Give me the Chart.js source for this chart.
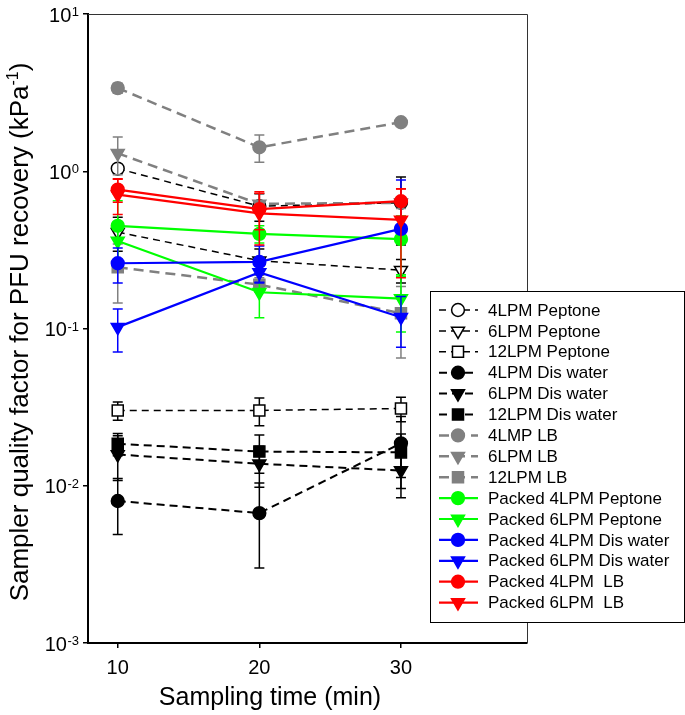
<!DOCTYPE html>
<html lang="en">
<head>
  <meta charset="UTF-8">
  <title>Sampler quality factor for PFU recovery</title>
  <script src="https://cdn.jsdelivr.net/npm/chart.js"></script>
  <style>
    body { margin: 0; background: #fff; }
  </style>
</head>
<body>
<canvas id="qfChart" width="685" height="715"></canvas>
<script>
  // x values (sampling time, min) and axis ticks
  const times = [10, 20, 30];
  const xTicks = [10, 20, 30];
  const yTicks = [0.001, 0.01, 0.1, 1, 10];
  const yTickExp = ['-3', '-2', '-1', '0', '1'];

  const seriesNames = [
    '4LPM Peptone', '6LPM Peptone', '12LPM Peptone',
    '4LPM Dis water', '6LPM Dis water', '12LPM Dis water',
    '4LMP LB', '6LPM LB', '12LPM LB',
    'Packed 4LPM Peptone', 'Packed 6LPM Peptone',
    'Packed 4LPM Dis water', 'Packed 6LPM Dis water',
    'Packed 4LPM  LB', 'Packed 6LPM  LB'
  ];

  // mean values at 10, 20, 30 min
  const pep4 = [1.04, 0.60, 0.63];
  const pep6 = [0.41, 0.27, 0.235];
  const pep12 = [0.0301, 0.0301, 0.031];
  const dis4 = [0.0080, 0.0067, 0.0186];
  const dis6 = [0.0158, 0.0138, 0.0125];
  const dis12 = [0.0185, 0.0165, 0.0163];
  const lb4 = [3.38, 1.42, 2.05];
  const lb6 = [1.30, 0.62, 0.63];
  const lb12 = [0.245, 0.19, 0.125];
  const packPep4 = [0.45, 0.40, 0.37];
  const packPep6 = [0.36, 0.17, 0.155];
  const packDis4 = [0.26, 0.265, 0.43];
  const packDis6 = [0.102, 0.227, 0.118];
  const packLb4 = [0.765, 0.575, 0.645];
  const packLb6 = [0.71, 0.54, 0.49];

  // error bars (+/- sd)
  const pep4Err = [0.05, 0.12, 0.29];
  const pep6Err = [0.10, 0.05, 0.04];
  const pep12Err = [0.004, 0.006, 0.0055];
  const dis4Err = [0.0031, 0.0037, 0.009];
  const dis6Err = [0.005, 0.004, 0.0041];
  const dis12Err = [0.003, 0.0045, 0.005];
  const lb4Err = [0.25, 0.28, 0.05];
  const lb6Err = [0.35, 0.03, 0.05];
  const lb12Err = [0.10, 0.02, 0.06];
  const packPep4Err = [0.20, 0.05, 0.15];
  const packPep6Err = [0.10, 0.053, 0.06];
  const packDis4Err = [0.065, 0.07, 0.45];
  const packDis6Err = [0.031, 0.03, 0.042];
  const packLb4Err = [0.13, 0.15, 0.13];
  const packLb6Err = [0.18, 0.20, 0.28];

  const allValues = [pep4, pep6, pep12, dis4, dis6, dis12, lb4, lb6, lb12,
    packPep4, packPep6, packDis4, packDis6, packLb4, packLb6];
  const allErrors = [pep4Err, pep6Err, pep12Err, dis4Err, dis6Err, dis12Err, lb4Err, lb6Err, lb12Err,
    packPep4Err, packPep6Err, packDis4Err, packDis6Err, packLb4Err, packLb6Err];

  const FONT = "'Liberation Sans', Arial, sans-serif";
  const GRAY = '#808080';

  // line kinds
  const lineKinds = {
    pep: { width: 1.5, dash: [7, 5] },
    dis: { width: 2, dash: [8, 5] },
    lb: { width: 2.5, dash: [10, 6] },
    packed: { width: 2.2, dash: [] }
  };

  // per series look: kind, color, marker, open
  const looks = [
    ['pep', '#000', 'circle', true], ['pep', '#000', 'triangle', true], ['pep', '#000', 'rect', true],
    ['dis', '#000', 'circle', false], ['dis', '#000', 'triangle', false], ['dis', '#000', 'rect', false],
    ['lb', GRAY, 'circle', false], ['lb', GRAY, 'triangle', false], ['lb', GRAY, 'rect', false],
    ['packed', '#00ff00', 'circle', false], ['packed', '#00ff00', 'triangle', false],
    ['packed', '#0000ff', 'circle', false], ['packed', '#0000ff', 'triangle', false],
    ['packed', '#ff0000', 'circle', false], ['packed', '#ff0000', 'triangle', false]
  ];

  function markerRadius(style) {
    if (style === 'triangle') return 7.5;
    if (style === 'rect') return 7.8;
    return 6.4;
  }

  const datasets = seriesNames.map((name, i) => {
    const [kind, color, marker, open] = looks[i];
    const lk = lineKinds[kind];
    return {
      label: name,
      data: times.map((t, j) => ({ x: t, y: allValues[i][j] })),
      errors: allErrors[i],
      borderColor: color,
      borderWidth: lk.width,
      borderDash: lk.dash,
      pointStyle: marker,
      pointRadius: markerRadius(marker),
      pointRotation: marker === 'triangle' ? 180 : 0,
      pointBackgroundColor: open ? '#fff' : color,
      pointBorderColor: color,
      pointBorderWidth: 1.5,
      fill: false,
      tension: 0,
      order: seriesNames.length - i
    };
  });

  // error bars, drawn just before each dataset so layering follows the series
  const errorBars = {
    id: 'errorBars',
    beforeDatasetDraw(chart, args) {
      const ds = chart.data.datasets[args.index];
      const yScale = chart.scales.y;
      const area = chart.chartArea;
      const ctx = chart.ctx;
      ctx.save();
      ctx.beginPath();
      ctx.rect(area.left, area.top, area.right - area.left, area.bottom - area.top);
      ctx.clip();
      ctx.strokeStyle = ds.borderColor;
      ctx.lineWidth = 1.5;
      ctx.setLineDash([]);
      args.meta.data.forEach((pt, j) => {
        const v = ds.data[j].y, e = ds.errors[j];
        const top = yScale.getPixelForValue(v + e);
        const bot = v - e > 0 ? yScale.getPixelForValue(v - e) : null;
        ctx.beginPath();
        ctx.moveTo(pt.x, top);
        ctx.lineTo(pt.x, bot === null ? pt.y : bot);
        ctx.moveTo(pt.x - 5, top);
        ctx.lineTo(pt.x + 5, top);
        if (bot !== null) {
          ctx.moveTo(pt.x - 5, bot);
          ctx.lineTo(pt.x + 5, bot);
        }
        ctx.stroke();
      });
      ctx.restore();
    }
  };

  // frame, superscript tick labels, titles, legend
  const decorations = {
    id: 'decorations',
    afterDraw(chart) {
      const ctx = chart.ctx;
      const area = chart.chartArea;
      const yScale = chart.scales.y;
      ctx.save();

      // top and right frame lines
      ctx.strokeStyle = '#333';
      ctx.lineWidth = 1;
      ctx.beginPath();
      ctx.moveTo(area.left, area.top + 0.5);
      ctx.lineTo(area.right + 0.5, area.top + 0.5);
      ctx.lineTo(area.right + 0.5, area.bottom);
      ctx.stroke();

      // y tick labels 10^n
      ctx.fillStyle = '#000';
      ctx.textBaseline = 'alphabetic';
      ctx.textAlign = 'left';
      yTicks.forEach((v, i) => {
        const py = yScale.getPixelForValue(v);
        ctx.font = '13px ' + FONT;
        const wExp = ctx.measureText(yTickExp[i]).width;
        ctx.font = '20px ' + FONT;
        const wBase = ctx.measureText('10').width;
        const right = 79;
        ctx.fillText('10', right - wExp - wBase - 0.5, py + 7.5);
        ctx.font = '13px ' + FONT;
        ctx.fillText(yTickExp[i], right - wExp, py + 2);
      });

      // y axis title with superscript
      const parts = [
        ['Sampler quality factor for PFU recovery (kPa', 26, 0],
        ['-1', 16, -10],
        [')', 26, 0]
      ];
      let total = 0;
      parts.forEach(p => { ctx.font = p[1] + 'px ' + FONT; total += ctx.measureText(p[0]).width; });
      ctx.save();
      ctx.translate(28, 332);
      ctx.rotate(-Math.PI / 2);
      let cx = -total / 2;
      parts.forEach(p => {
        ctx.font = p[1] + 'px ' + FONT;
        ctx.fillText(p[0], cx, p[2]);
        cx += ctx.measureText(p[0]).width;
      });
      ctx.restore();

      // x axis title
      ctx.font = '25px ' + FONT;
      ctx.textAlign = 'center';
      ctx.fillText('Sampling time (min)', 270, 705);

      // legend box
      const lx = 430, ly = 291, lw = 254, lh = 331;
      ctx.fillStyle = '#fff';
      ctx.fillRect(lx, ly, lw, lh);
      ctx.strokeStyle = '#000';
      ctx.lineWidth = 1;
      ctx.strokeRect(lx + 0.5, ly + 0.5, lw, lh);

      ctx.textAlign = 'left';
      ctx.textBaseline = 'middle';
      ctx.font = '17px ' + FONT;
      chart.data.datasets.forEach((ds, i) => {
        const ry = 310 + i * 20.9;
        ctx.strokeStyle = ds.borderColor;
        ctx.lineWidth = ds.borderWidth;
        ctx.setLineDash(ds.borderDash);
        ctx.beginPath();
        ctx.moveTo(439, ry);
        ctx.lineTo(478, ry);
        ctx.stroke();
        ctx.setLineDash([]);
        ctx.fillStyle = ds.pointBackgroundColor;
        ctx.strokeStyle = ds.pointBorderColor;
        ctx.lineWidth = ds.pointBorderWidth;
        Chart.helpers.drawPoint(ctx, {
          pointStyle: ds.pointStyle,
          radius: ds.pointRadius,
          rotation: ds.pointRotation,
          borderWidth: ds.pointBorderWidth
        }, 458, ry);
        ctx.fillStyle = '#000';
        ctx.fillText(ds.label, 488, ry + 1);
      });
      ctx.restore();
    }
  };

  new Chart(document.getElementById('qfChart'), {
    type: 'line',
    data: { datasets: datasets },
    options: {
      responsive: false,
      animation: false,
      devicePixelRatio: 1,
      layout: { padding: { top: 14, right: 158, left: 0, bottom: 0 } },
      plugins: {
        legend: { display: false },
        tooltip: { enabled: false }
      },
      scales: {
        x: {
          type: 'linear',
          min: 7.9,
          max: 38.9,
          afterBuildTicks: s => { s.ticks = xTicks.map(v => ({ value: v })); },
          afterFit: s => { s.height = 72; },
          border: { color: '#000', width: 2 },
          grid: { display: true, drawOnChartArea: false, drawTicks: true, tickLength: 5, color: '#000', lineWidth: 1.5 },
          ticks: {
            color: '#000',
            font: { family: FONT, size: 20 },
            padding: 8,
            maxRotation: 0,
            callback: v => String(v)
          }
        },
        y: {
          type: 'logarithmic',
          min: 0.001,
          max: 10,
          afterBuildTicks: s => { s.ticks = yTicks.map(v => ({ value: v })); },
          afterFit: s => { s.width = 88; },
          border: { color: '#000', width: 2 },
          grid: { display: true, drawOnChartArea: false, drawTicks: true, tickLength: 5, color: '#000', lineWidth: 1.5 },
          ticks: { display: false }
        }
      }
    },
    plugins: [errorBars, decorations]
  });
</script>
</body>
</html>
